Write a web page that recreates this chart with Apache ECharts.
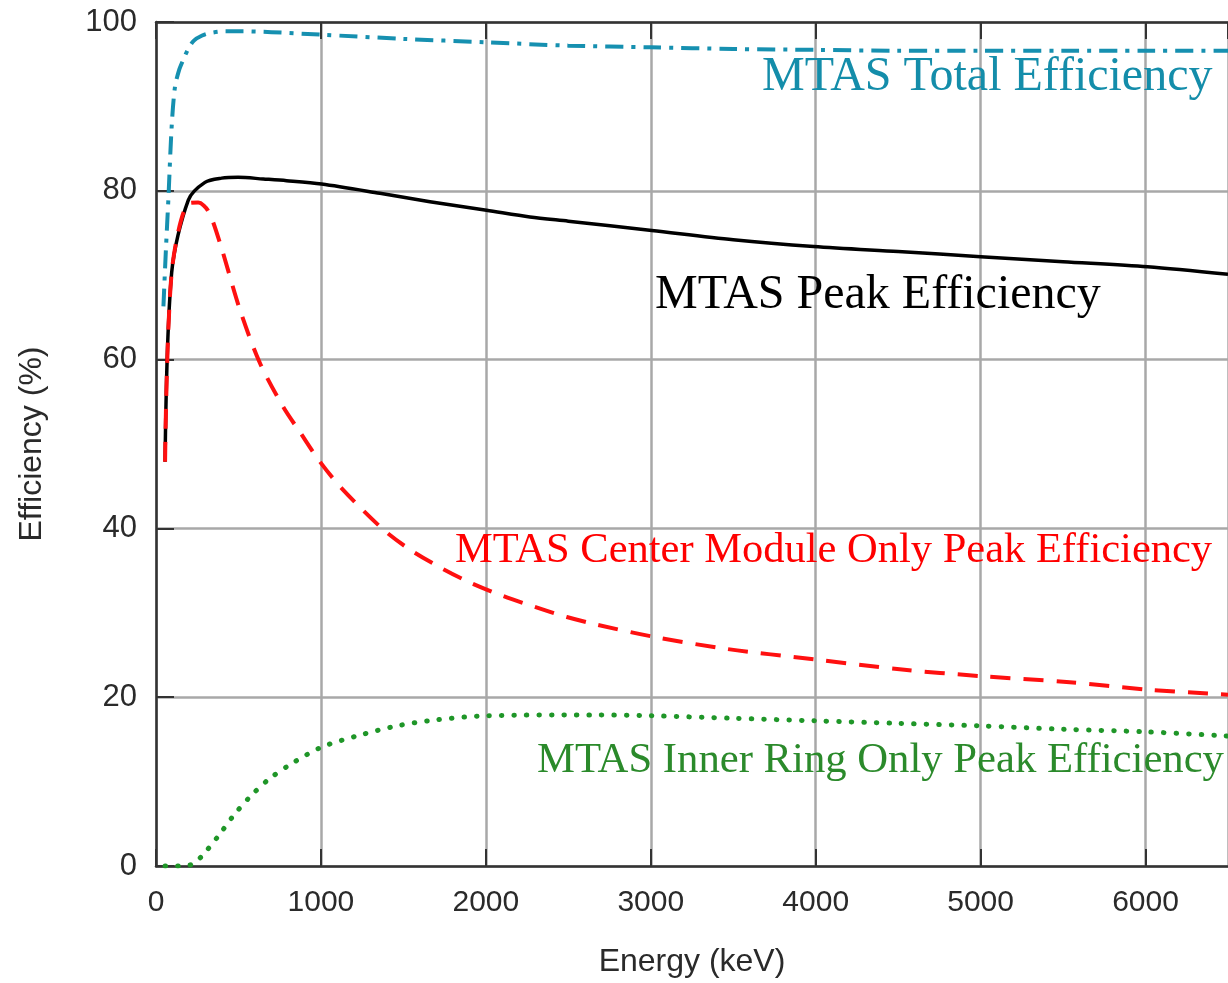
<!DOCTYPE html>
<html>
<head>
<meta charset="utf-8">
<title>MTAS Efficiency</title>
<script src="https://cdn.jsdelivr.net/npm/echarts@6/dist/echarts.min.js"></script>
<style>
  html, body { margin: 0; padding: 0; background: #fff; }
  #chart { width: 1228px; height: 983px; }
</style>
</head>
<body>
<div id="chart"></div>
<script>
// Axis ticks
const energyTicks = [0, 1000, 2000, 3000, 4000, 5000, 6000];
const efficiencyTicks = [0, 20, 40, 60, 80, 100];

// MTAS total efficiency (%)
const totalEnergy = [45, 60, 75, 95, 115, 140, 165, 195, 230, 280, 330, 420, 510, 700, 1000, 1500, 2000, 2500, 3000, 3500, 4000, 4500, 5000, 5500, 6000, 6500];
const totalEff    = [66.3, 73.0, 79.0, 87.6, 92.3, 94.3, 95.5, 96.8, 97.8, 98.4, 98.7, 98.9, 98.9, 98.8, 98.5, 98.0, 97.6, 97.2, 97.0, 96.8, 96.7, 96.6, 96.6, 96.6, 96.6, 96.6];

// MTAS full-energy peak efficiency (%)
const peakEnergy = [55, 95, 196, 297, 398, 498, 650, 792, 1004, 1358, 1661, 2004, 2267, 2500, 3006, 3500, 3988, 4500, 5000, 5500, 6012, 6500];
const peakEff    = [47.9, 70.3, 78.9, 81.0, 81.5, 81.6, 81.4, 81.2, 80.8, 79.7, 78.7, 77.7, 76.9, 76.4, 75.3, 74.2, 73.4, 72.8, 72.2, 71.6, 71.0, 70.1];

// Center module only peak efficiency (%)
const centerEnergy = [55, 95, 196, 256, 317, 388, 509, 630, 771, 873, 994, 1133, 1376, 1539, 1721, 1903, 2103, 2297, 2491, 2673, 3006, 3467, 3988, 4509, 5000, 5521, 6012, 6500];
const centerEff    = [47.9, 70.3, 78.5, 78.6, 77.6, 73.8, 65.9, 59.6, 54.4, 51.4, 47.9, 44.6, 39.9, 37.5, 35.4, 33.6, 32.0, 30.7, 29.5, 28.6, 27.2, 25.7, 24.5, 23.3, 22.5, 21.8, 20.9, 20.3];

// Inner ring only peak efficiency (%)
const innerEnergy = [55, 150, 218, 279, 376, 467, 570, 679, 812, 1006, 1236, 1461, 1691, 2006, 2630, 3000, 3500, 4000, 4500, 5000, 5500, 6000, 6500];
const innerEff    = [0.0, 0.0, 0.2, 1.2, 3.5, 5.9, 8.2, 10.2, 12.0, 14.1, 15.5, 16.6, 17.3, 17.8, 17.9, 17.8, 17.5, 17.2, 16.9, 16.6, 16.2, 15.9, 15.4];

const pairs = (xs, ys) => xs.map((x, i) => [x, ys[i]]);

const TEAL = '#1690b0';
const TEAL_TEXT = '#148daa';
const RED = '#ff1010';
const GREEN = '#1f9628';
const GREEN_TEXT = '#2b8a2b';
const AXIS = '#333';
const GRIDC = '#a8a8a8';
const SANS = '"Liberation Sans", Arial, sans-serif';
const SERIF = '"Liberation Serif", "Times New Roman", serif';

const chart = echarts.init(document.getElementById('chart'), null, { renderer: 'canvas' });

const baseX = {
  type: 'value',
  min: energyTicks[0],
  max: 6500,
  interval: 1000
};

chart.setOption({
  animation: false,
  backgroundColor: '#fff',
  grid: { left: 156, top: 22, right: 0, bottom: 116, containLabel: false },
  xAxis: [
    Object.assign({}, baseX, {
      position: 'bottom',
      name: 'Energy (keV)',
      nameLocation: 'middle',
      nameGap: 80,
      nameTextStyle: { fontFamily: SANS, fontSize: 32, color: '#2a2a2a' },
      axisLine: { show: true, onZero: false, lineStyle: { color: AXIS, width: 2.5 } },
      axisTick: { show: true, inside: true, length: 17, lineStyle: { color: AXIS, width: 2 } },
      axisLabel: {
        show: true, margin: 22, fontFamily: SANS, fontSize: 30, color: '#2a2a2a',
        showMaxLabel: false,
        formatter: v => (energyTicks.indexOf(v) >= 0 ? String(v) : '')
      },
      splitLine: { show: true, lineStyle: { color: GRIDC, width: 2.5 } }
    }),
    Object.assign({}, baseX, {
      position: 'top',
      axisLine: { show: true, onZero: false, lineStyle: { color: AXIS, width: 2.5 } },
      axisTick: { show: true, inside: true, length: 17, lineStyle: { color: AXIS, width: 2 } },
      axisLabel: { show: false },
      splitLine: { show: false }
    })
  ],
  yAxis: [{
    type: 'value',
    min: efficiencyTicks[0],
    max: efficiencyTicks[efficiencyTicks.length - 1],
    interval: 20,
    name: 'Efficiency (%)',
    nameLocation: 'middle',
    nameGap: 108,
    nameRotate: 90,
    nameTextStyle: { fontFamily: SANS, fontSize: 32, color: '#2a2a2a' },
    axisLine: { show: true, onZero: false, lineStyle: { color: AXIS, width: 2.5 } },
    axisTick: { show: true, inside: true, length: 18, lineStyle: { color: AXIS, width: 2 } },
    axisLabel: { margin: 19, fontFamily: SANS, fontSize: 31, color: '#2a2a2a' },
    splitLine: { show: true, lineStyle: { color: GRIDC, width: 2.5 } }
  }],
  series: [
    {
      name: 'MTAS Total Efficiency',
      type: 'line',
      data: pairs(totalEnergy, totalEff),
      showSymbol: false,
      smooth: 0.3,
      lineStyle: { color: TEAL, width: 4, type: [18, 8, 4, 8] },
      z: 5
    },
    {
      name: 'MTAS Peak Efficiency',
      type: 'line',
      data: pairs(peakEnergy, peakEff),
      showSymbol: false,
      smooth: 0.3,
      lineStyle: { color: '#000', width: 3.5, join: 'round' },
      z: 4
    },
    {
      name: 'MTAS Center Module Only Peak Efficiency',
      type: 'line',
      data: pairs(centerEnergy, centerEff),
      showSymbol: false,
      smooth: 0.3,
      lineStyle: { color: RED, width: 4, type: [20, 13], join: 'round' },
      z: 6
    },
    {
      name: 'MTAS Inner Ring Only Peak Efficiency',
      type: 'line',
      data: pairs(innerEnergy, innerEff),
      showSymbol: false,
      smooth: 0.3,
      lineStyle: { color: GREEN, width: 5, type: [0.5, 12], cap: 'round' },
      z: 5
    }
  ],
  graphic: [
    { type: 'text', x: 762, y: 77, z: 20,
      style: { text: 'MTAS Total Efficiency', font: '48px ' + SERIF, fill: TEAL_TEXT, verticalAlign: 'middle' } },
    { type: 'text', x: 655, y: 295, z: 20,
      style: { text: 'MTAS Peak Efficiency', font: '48px ' + SERIF, fill: '#000', verticalAlign: 'middle' } },
    { type: 'text', x: 455, y: 551, z: 20,
      style: { text: 'MTAS Center Module Only Peak Efficiency', font: '42.5px ' + SERIF, fill: '#ff0000', verticalAlign: 'middle' } },
    { type: 'text', x: 537, y: 761, z: 20,
      style: { text: 'MTAS Inner Ring Only Peak Efficiency', font: '42.7px ' + SERIF, fill: GREEN_TEXT, verticalAlign: 'middle' } }
  ]
});
</script>
</body>
</html>
